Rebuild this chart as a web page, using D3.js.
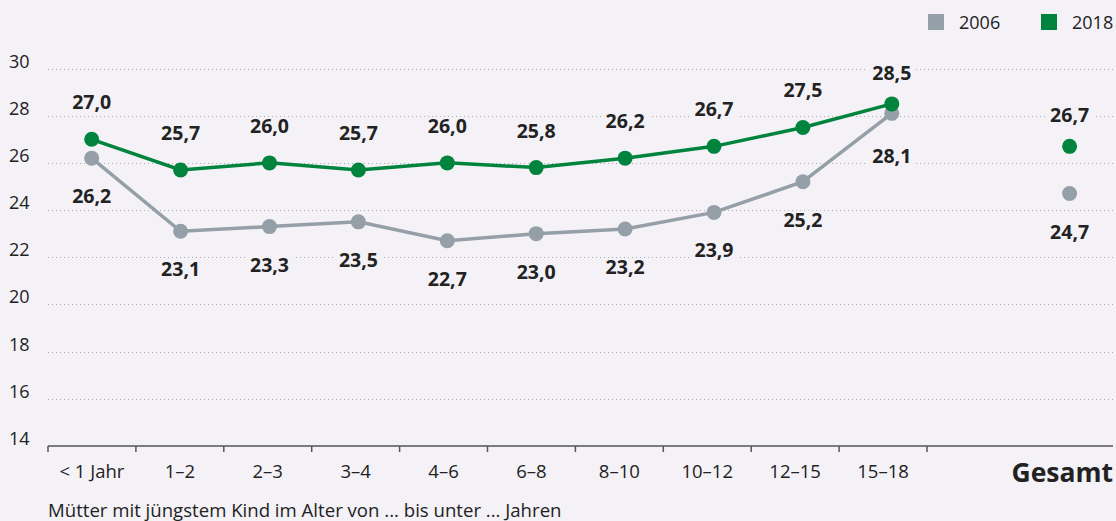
<!DOCTYPE html>
<html>
<head>
<meta charset="utf-8">
<script src="https://cdn.jsdelivr.net/npm/d3@7"></script>
<style>
  body { margin: 0; background: #f4f2f6; }
  svg { display: block; font-family: "Open Sans", "Noto Sans", sans-serif; }
</style>
</head>
<body>
<svg id="chart" width="1116" height="521"></svg>
<script>
const categories = ["< 1 Jahr", "1–2", "2–3", "3–4", "4–6", "6–8", "8–10", "10–12", "12–15", "15–18"]
const values2006 = [26.2, 23.1, 23.3, 23.5, 22.7, 23.0, 23.2, 23.9, 25.2, 28.1]
const values2018 = [27.0, 25.7, 26.0, 25.7, 26.0, 25.8, 26.2, 26.7, 27.5, 28.5]
const total2006 = 24.7
const total2018 = 26.7
const yTicks = [14, 16, 18, 20, 22, 24, 26, 28, 30]
const totalLabel = "Gesamt"
const xTitle = "Mütter mit jüngstem Kind im Alter von ... bis unter ... Jahren"

const green = "#00843d"
const grey = "#959fa8"
const fmt = v => d3.format(".1f")(v).replace(".", ",")

const svg = d3.select("#chart")
const bg = "#f4f2f6"
svg.append("rect").attr("width", 1116).attr("height", 521).attr("fill", bg)

// bands for axis ticks/labels, points for the marks (Gesamt sits one slot past the gap)
const x = d3.scaleBand().domain(categories).range([48, 927])
const cx = c => x(c) + x.bandwidth() / 2
const xp = d3.scalePoint().domain(categories.concat(["", totalLabel])).range([91.7, 1069.6])
const y = d3.scaleLinear().domain([14, 30]).range([446, 68.5])

// grid
svg.append("g")
  .selectAll("line")
  .data(yTicks.filter(t => t > 14))
  .join("line")
    .attr("x1", 48).attr("x2", 1113)
    .attr("y1", d => Math.round(y(d)) + 0.5).attr("y2", d => Math.round(y(d)) + 0.5)
    .attr("stroke", "#a9a9ad")
    .attr("stroke-width", 1)
    .attr("stroke-dasharray", "1,3")

// y labels
svg.append("g")
  .selectAll("text")
  .data(yTicks)
  .join("text")
    .attr("x", 9)
    .attr("y", d => y(d) - 1)
    .attr("font-size", 18)
    .attr("fill", "#222")
    .text(d => d)

// x axis
const ends = categories.map(c => x(c)).concat([x(categories[categories.length - 1]) + x.bandwidth()])
const gx = svg.append("g").attr("transform", "translate(0,446)")
gx.append("line").attr("x1", 48).attr("x2", 1113).attr("stroke", "#555").attr("stroke-width", 1.5)
gx.selectAll(".tk")
  .data(ends)
  .join("line")
    .attr("class", "tk")
    .attr("x1", d => d).attr("x2", d => d)
    .attr("y1", 0).attr("y2", 6)
    .attr("stroke", "#555").attr("stroke-width", 1.5)

svg.append("g")
  .selectAll("text")
  .data(categories)
  .join("text")
    .attr("x", d => cx(d))
    .attr("y", 478)
    .attr("text-anchor", "middle")
    .attr("font-size", 18.5)
    .attr("fill", "#222")
    .text(d => d)

svg.append("text")
  .attr("x", 1113).attr("y", 482)
  .attr("text-anchor", "end")
  .attr("font-size", 26.5)
  .attr("font-weight", "bold")
  .attr("fill", "#222")
  .text(totalLabel)

svg.append("text")
  .attr("x", 48).attr("y", 517)
  .attr("font-size", 18.6)
  .attr("fill", "#222")
  .text(xTitle)

// lines
const line = d3.line().x((d, i) => xp(categories[i])).y(d => y(d))
svg.append("path").datum(values2006).attr("d", line)
  .attr("fill", "none").attr("stroke", grey).attr("stroke-width", 3.5)
svg.append("path").datum(values2018).attr("d", line)
  .attr("fill", "none").attr("stroke", green).attr("stroke-width", 3.5)

const pts2006 = values2006.map((v, i) => ({ x: xp(categories[i]), v })).concat([{ x: xp(totalLabel), v: total2006 }])
const pts2018 = values2018.map((v, i) => ({ x: xp(categories[i]), v })).concat([{ x: xp(totalLabel), v: total2018 }])

svg.append("g").selectAll("circle").data(pts2006).join("circle")
  .attr("cx", d => d.x).attr("cy", d => y(d.v)).attr("r", 7.5).attr("fill", grey)
svg.append("g").selectAll("circle").data(pts2018).join("circle")
  .attr("cx", d => d.x).attr("cy", d => y(d.v)).attr("r", 7.5).attr("fill", green)

// value labels
const addLabels = (pts, offset) => {
  const g = svg.append("g")
  pts.forEach((d, i) => {
    const ty = y(d.v) + offset(i, pts.length)
    g.append("rect")
      .attr("x", d.x - 24).attr("y", ty - 16).attr("width", 48).attr("height", 21)
      .attr("fill", bg)
    g.append("text")
      .attr("x", d.x).attr("y", ty)
      .attr("text-anchor", "middle")
      .attr("font-size", 19.5)
      .attr("font-weight", "bold")
      .attr("fill", "#222")
      .text(fmt(d.v))
  })
}
addLabels(pts2018, (i, n) => i >= n - 2 ? -24 : -30)
addLabels(pts2006, (i, n) => i === n - 2 ? 50 : 45)

// legend
const legend = [{ label: "2006", color: grey, x: 928 }, { label: "2018", color: green, x: 1041 }]
const lg = svg.append("g").selectAll("g").data(legend).join("g")
  .attr("transform", d => `translate(${d.x},14)`)
lg.append("rect").attr("width", 16).attr("height", 16).attr("fill", d => d.color)
lg.append("text").attr("x", 31).attr("y", 15).attr("font-size", 18).attr("fill", "#222").text(d => d.label)
</script>
</body>
</html>
